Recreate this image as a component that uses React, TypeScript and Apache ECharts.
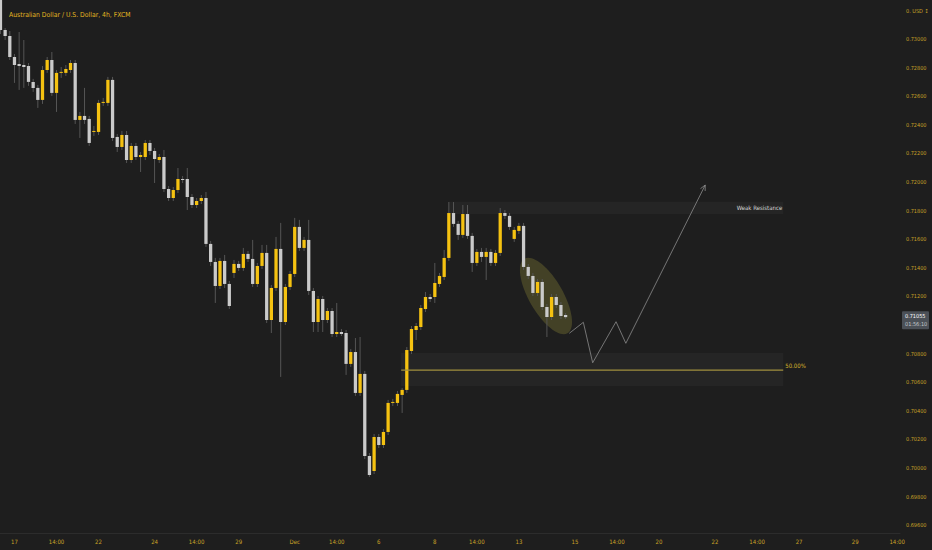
import React, { useEffect, useRef } from 'react';
import * as echarts from 'echarts';

// AUD/USD 4h candles (index 0 = left edge of the view)
const TITLE = 'Australian Dollar / U.S. Dollar, 4h, FXCM';

const OPENS = [
  0.73294, 0.73063, 0.73021, 0.72874, 0.72825, 0.72818, 0.72811, 0.72700, 0.72658, 0.72574,
  0.72783, 0.72853, 0.72623, 0.72763, 0.72763, 0.72783, 0.72832, 0.72434, 0.72462, 0.72441,
  0.72350, 0.72350, 0.72553, 0.72553, 0.72714, 0.72315, 0.72245, 0.72329, 0.72154, 0.72252,
  0.72175, 0.72175, 0.72273, 0.72217, 0.72154, 0.72175, 0.71951, 0.71888, 0.71944, 0.72021,
  0.72021, 0.71895, 0.71839, 0.71867, 0.71888, 0.71567, 0.71441, 0.71273, 0.71448, 0.71287,
  0.71364, 0.71427, 0.71399, 0.71497, 0.71462, 0.71287, 0.71413, 0.71504, 0.71035, 0.71259,
  0.71532, 0.71021, 0.71266, 0.71357, 0.71686, 0.71539, 0.71595, 0.71238, 0.71021, 0.71182,
  0.71035, 0.71098, 0.70937, 0.70951, 0.70944, 0.70728, 0.70811, 0.70525, 0.70658, 0.70084,
  0.69979, 0.70217, 0.70161, 0.70252, 0.70455, 0.70455, 0.70511, 0.70546, 0.70818, 0.70965,
  0.70986, 0.71112, 0.71196, 0.71196, 0.71287, 0.71336, 0.71469, 0.71783, 0.71707, 0.71630,
  0.71776, 0.71623, 0.71434, 0.71511, 0.71476, 0.71511, 0.71434, 0.71504, 0.71783, 0.71763,
  0.71602, 0.71658, 0.71693, 0.71406, 0.71343, 0.71224, 0.71301, 0.71126, 0.71056, 0.71196,
  0.71140, 0.71070,
];
const HIGHS = [
  0.73315, 0.73077, 0.73056, 0.72895, 0.73049, 0.72993, 0.72832, 0.72721, 0.72679, 0.72811,
  0.72874, 0.72909, 0.72783, 0.72804, 0.72818, 0.72853, 0.72853, 0.72490, 0.72658, 0.72462,
  0.72392, 0.72574, 0.72588, 0.72735, 0.72735, 0.72336, 0.72357, 0.72357, 0.72273, 0.72273,
  0.72210, 0.72294, 0.72294, 0.72238, 0.72196, 0.72224, 0.71972, 0.71965, 0.72098, 0.72042,
  0.72098, 0.71916, 0.71888, 0.71909, 0.71930, 0.71588, 0.71469, 0.71469, 0.71490, 0.71308,
  0.71455, 0.71448, 0.71539, 0.71518, 0.71595, 0.71434, 0.71560, 0.71560, 0.71280, 0.71616,
  0.71714, 0.71287, 0.71378, 0.71749, 0.71735, 0.71616, 0.71735, 0.71259, 0.71203, 0.71203,
  0.71119, 0.71119, 0.71154, 0.70972, 0.70965, 0.70832, 0.70909, 0.70916, 0.70679, 0.70105,
  0.70238, 0.70238, 0.70273, 0.70476, 0.70483, 0.70539, 0.70560, 0.70846, 0.70993, 0.71014,
  0.71140, 0.71231, 0.71217, 0.71434, 0.71364, 0.71525, 0.71860, 0.71860, 0.71728, 0.71839,
  0.71839, 0.71644, 0.71532, 0.71539, 0.71539, 0.71532, 0.71525, 0.71818, 0.71804, 0.71783,
  0.71686, 0.71714, 0.71714, 0.71427, 0.71364, 0.71322, 0.71322, 0.71147, 0.71217, 0.71217,
  0.71161, 0.71084,
];
const LOWS = [
  0.73035, 0.72993, 0.72853, 0.72693, 0.72644, 0.72658, 0.72672, 0.72630, 0.72518, 0.72546,
  0.72763, 0.72602, 0.72490, 0.72728, 0.72742, 0.72763, 0.72406, 0.72308, 0.72406, 0.72252,
  0.72322, 0.72329, 0.72532, 0.72532, 0.72287, 0.72210, 0.72224, 0.72133, 0.72133, 0.72154,
  0.72070, 0.72154, 0.72189, 0.71993, 0.72133, 0.71930, 0.71867, 0.71867, 0.71923, 0.71993,
  0.71804, 0.71818, 0.71818, 0.71846, 0.71546, 0.71413, 0.71154, 0.71252, 0.71259, 0.71112,
  0.71329, 0.71378, 0.71378, 0.71441, 0.71266, 0.71266, 0.71392, 0.71014, 0.70944, 0.71238,
  0.70637, 0.71000, 0.71245, 0.71336, 0.71518, 0.71518, 0.71210, 0.70951, 0.70951, 0.70951,
  0.71014, 0.70916, 0.70916, 0.70923, 0.70651, 0.70707, 0.70504, 0.70504, 0.70063, 0.69937,
  0.69958, 0.70140, 0.70140, 0.70231, 0.70434, 0.70434, 0.70385, 0.70525, 0.70797, 0.70895,
  0.70965, 0.71091, 0.71161, 0.71154, 0.71266, 0.71315, 0.71448, 0.71686, 0.71595, 0.71609,
  0.71602, 0.71371, 0.71413, 0.71441, 0.71315, 0.71413, 0.71413, 0.71483, 0.71742, 0.71665,
  0.71581, 0.71637, 0.71385, 0.71322, 0.71203, 0.71203, 0.71105, 0.70916, 0.71035, 0.71119,
  0.71042, 0.71042,
];
const CLOSES = [
  0.73063, 0.73021, 0.72874, 0.72818, 0.72811, 0.72804, 0.72700, 0.72658, 0.72574, 0.72783,
  0.72853, 0.72623, 0.72763, 0.72770, 0.72790, 0.72832, 0.72434, 0.72462, 0.72434, 0.72273,
  0.72357, 0.72553, 0.72560, 0.72714, 0.72308, 0.72245, 0.72329, 0.72154, 0.72252, 0.72175,
  0.72189, 0.72273, 0.72217, 0.72161, 0.72175, 0.71951, 0.71888, 0.71944, 0.72021, 0.72014,
  0.71895, 0.71839, 0.71867, 0.71888, 0.71567, 0.71441, 0.71273, 0.71448, 0.71287, 0.71133,
  0.71427, 0.71399, 0.71497, 0.71462, 0.71287, 0.71413, 0.71504, 0.71035, 0.71259, 0.71532,
  0.71021, 0.71266, 0.71357, 0.71686, 0.71539, 0.71595, 0.71238, 0.71021, 0.71182, 0.71035,
  0.71098, 0.70937, 0.70951, 0.70937, 0.70728, 0.70811, 0.70525, 0.70658, 0.70084, 0.69951,
  0.70217, 0.70161, 0.70252, 0.70455, 0.70462, 0.70518, 0.70546, 0.70825, 0.70972, 0.70993,
  0.71119, 0.71196, 0.71182, 0.71294, 0.71343, 0.71469, 0.71783, 0.71707, 0.71630, 0.71776,
  0.71623, 0.71434, 0.71511, 0.71476, 0.71511, 0.71434, 0.71504, 0.71783, 0.71763, 0.71686,
  0.71665, 0.71693, 0.71406, 0.71343, 0.71224, 0.71301, 0.71126, 0.71056, 0.71196, 0.71140,
  0.71063, 0.71055,
];

// time scale labels (candle index -> text)
const X_TICK_INDEX = [3, 12, 21, 33, 42, 51, 63, 72, 81, 93, 102, 111, 123, 132, 141, 153, 162, 171, 183, 192];
const X_TICK_LABELS = ['17', '14:00', '22', '24', '14:00', '29', 'Dec', '14:00', '6', '8', '14:00', '13', '15', '14:00', '20', '22', '14:00', '27', '29', '14:00'];
// 0.732 sits under the currency badge, so it is left out
const Y_TICKS = [0.696, 0.698, 0.7, 0.702, 0.704, 0.706, 0.708, 0.71, 0.712, 0.714, 0.716, 0.718, 0.72, 0.722, 0.724, 0.726, 0.728, 0.73];

// drawings (index, price)
const RESIST_ZONE = { from: 96, to: 167.6, top: 0.71862, bottom: 0.71776, label: 'Weak Resistance' };
const HALF_ZONE = { from: 85.8, to: 167.6, top: 0.70804, bottom: 0.70573, level: 0.70685, label: '50.00%' };
const PROJECTION_X = [121.8, 124.8, 126.8, 131.8, 133.9, 150.9];
const PROJECTION_Y = [0.70942, 0.71019, 0.70736, 0.71023, 0.70872, 0.71979];
const ELLIPSE = { x: 116.8, y: 0.71203 };
const LAST_TIME = '01:56:10';

const BG = '#1e1e1e';
const UP = '#f5c211';
const DOWN = '#cacaca';
const WICK = '#555555';
const GOLD = '#c9a227';
const FONT = "'Liberation Sans Narrow', 'DejaVu Sans Condensed', Roboto, sans-serif";

const App: React.FC = () => {
  const chartRef = useRef<HTMLDivElement>(null);

  useEffect(() => {
    if (!chartRef.current) return;
    const chart = echarts.init(chartRef.current, null, { renderer: 'svg' });

    const candles = OPENS.map((o, i) => [i, o, CLOSES[i], LOWS[i], HIGHS[i]]);

    chart.setOption({
      animation: false,
      backgroundColor: BG,
      title: {
        text: TITLE,
        left: 4,
        top: 6,
        textStyle: { color: '#e2b521', fontSize: 6.8, fontWeight: 'normal', fontFamily: FONT },
      },
      grid: { left: 0, top: 0, width: 900, height: 533 },
      xAxis: {
        type: 'value',
        min: -0.1,
        max: 192.6,
        axisLine: { show: true, lineStyle: { color: '#2c2c2c' } },
        axisTick: { show: false },
        splitLine: { show: false },
        axisLabel: {
          customValues: X_TICK_INDEX,
          formatter: (v: number) => X_TICK_LABELS[X_TICK_INDEX.indexOf(Math.round(v))] ?? '',
          color: GOLD,
          fontSize: 6,
          fontFamily: FONT,
          margin: 5,
        },
      },
      yAxis: {
        type: 'value',
        position: 'right',
        min: 0.695455,
        max: 0.732727,
        axisLine: { show: false },
        axisTick: { show: false },
        splitLine: { show: false },
        axisLabel: {
          customValues: Y_TICKS,
          formatter: (v: number) => v.toFixed(5),
          color: GOLD,
          fontSize: 5.5,
          fontFamily: FONT,
          margin: 6,
        },
      },
      series: [
        {
          type: 'custom',
          clip: true,
          z: 5,
          data: candles,
          encode: { x: 0, y: [1, 2, 3, 4] },
          renderItem: (_params: any, api: any) => {
            const i = api.value(0);
            const o = api.value(1);
            const c = api.value(2);
            const pO = api.coord([i, o]);
            const pC = api.coord([i, c]);
            const pL = api.coord([i, api.value(3)]);
            const pH = api.coord([i, api.value(4)]);
            const w = api.size([1, 0])[0] * 0.7;
            const top = Math.min(pO[1], pC[1]);
            const h = Math.max(Math.abs(pO[1] - pC[1]), 1);
            return {
              type: 'group',
              children: [
                { type: 'line', shape: { x1: pH[0], y1: pH[1], x2: pL[0], y2: pL[1] }, style: { stroke: WICK, lineWidth: 1 } },
                { type: 'rect', shape: { x: pO[0] - w / 2, y: top, width: w, height: h }, style: { fill: c >= o ? UP : DOWN } },
              ],
            };
          },
        },
      ],
    });

    const px = (x: number, y: number) => chart.convertToPixel({ gridIndex: 0 }, [x, y]) as number[];

    const rA = px(RESIST_ZONE.from, RESIST_ZONE.top);
    const rB = px(RESIST_ZONE.to, RESIST_ZONE.bottom);
    const hA = px(HALF_ZONE.from, HALF_ZONE.top);
    const hB = px(HALF_ZONE.to, HALF_ZONE.bottom);
    const hL = px(HALF_ZONE.to, HALF_ZONE.level);
    const hL0 = px(HALF_ZONE.from, HALF_ZONE.level);
    const proj = PROJECTION_X.map((x, k) => px(x, PROJECTION_Y[k]));
    const tip = proj[proj.length - 1];
    const prev = proj[proj.length - 2];
    const ang = Math.atan2(tip[1] - prev[1], tip[0] - prev[0]);
    const head = (d: number) => [tip[0] - 6 * Math.cos(ang + d), tip[1] - 6 * Math.sin(ang + d)];
    const e = px(ELLIPSE.x, ELLIPSE.y);
    const last = px(0, CLOSES[CLOSES.length - 1]);

    chart.setOption({
      graphic: [
        {
          type: 'rect', z: 1,
          shape: { x: rA[0], y: rA[1], width: rB[0] - rA[0], height: rB[1] - rA[1] },
          style: { fill: 'rgba(255,255,255,0.035)' },
        },
        {
          type: 'text', z: 20, x: rB[0] - 1, y: (rA[1] + rB[1]) / 2,
          style: { text: RESIST_ZONE.label, fill: '#d6d6d6', fontSize: 6, fontFamily: FONT, align: 'right', verticalAlign: 'middle' },
        },
        {
          type: 'rect', z: 1,
          shape: { x: hA[0], y: hA[1], width: hB[0] - hA[0], height: hB[1] - hA[1] },
          style: { fill: 'rgba(255,255,255,0.035)' },
        },
        {
          type: 'line', z: 20,
          shape: { x1: hL0[0], y1: hL[1], x2: hL[0], y2: hL[1] },
          style: { stroke: '#a08f3e', lineWidth: 1.2 },
        },
        {
          type: 'text', z: 20, x: hL[0] + 2, y: hL[1] - 5,
          style: { text: HALF_ZONE.label, fill: '#d8b52c', fontSize: 6, fontFamily: FONT, verticalAlign: 'middle' },
        },
        {
          type: 'ellipse', z: 2, x: e[0], y: e[1], rotation: -Math.PI / 3,
          shape: { cx: 0, cy: 0, rx: 43, ry: 17 },
          style: { fill: 'rgba(200,190,70,0.22)' },
        },
        {
          type: 'polyline', z: 20,
          shape: { points: proj },
          style: { stroke: '#8c8c8c', lineWidth: 0.8, fill: null },
        },
        {
          type: 'polyline', z: 20,
          shape: { points: [head(0.45), tip, head(-0.45)] },
          style: { stroke: '#8c8c8c', lineWidth: 0.8, fill: null },
        },
        // last price badge on the price scale
        {
          type: 'rect', z: 30,
          shape: { x: 902, y: last[1] - 6, width: 27, height: 18, r: 1 },
          style: { fill: '#4b5057' },
        },
        {
          type: 'text', z: 31, x: 905, y: last[1] - 1,
          style: { text: CLOSES[CLOSES.length - 1].toFixed(5), fill: '#ffffff', fontSize: 5.5, fontFamily: FONT, verticalAlign: 'middle' },
        },
        {
          type: 'text', z: 31, x: 905, y: last[1] + 7,
          style: { text: LAST_TIME, fill: '#c4c8cc', fontSize: 5.5, fontFamily: FONT, verticalAlign: 'middle' },
        },
        // currency badge at the top of the price scale
        {
          type: 'text', z: 31, x: 906, y: 10.5,
          style: { text: '0. USD \u2195', fill: GOLD, fontSize: 5.5, fontFamily: FONT, verticalAlign: 'middle' },
        },
      ],
    });

    return () => {
      chart.dispose();
    };
  }, []);

  return (
    <div
      ref={chartRef}
      style={{ position: 'fixed', left: 0, top: 0, width: '932px', height: '550px', overflow: 'hidden' }}
    />
  );
};

export default App;
